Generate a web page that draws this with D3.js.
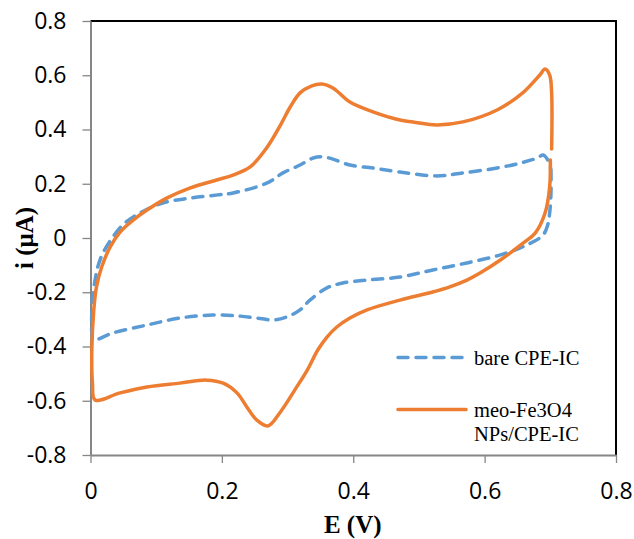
<!DOCTYPE html>
<html>
<head>
<meta charset="utf-8">
<script src="https://cdn.jsdelivr.net/npm/d3@7"></script>
<style>
  body { margin: 0; background: #fff; }
  svg  { display: block; }
</style>
</head>
<body>
<div id="chart"></div>
<script>
// Cyclic voltammograms: bare CPE-IC vs meo-Fe3O4 NPs/CPE-IC
// Values.

const xTicks = [0, 0.2, 0.4, 0.6, 0.8];
const yTicks = [-0.8, -0.6, -0.4, -0.2, 0, 0.2, 0.4, 0.6, 0.8];

const seriesNames = ['bare CPE-IC', 'meo-Fe3O4 NPs/CPE-IC'];

// bare CPE-IC (dashed blue), closed loop
const bareE = [0.701, 0.701, 0.699, 0.696, 0.689, 0.664, 0.623, 0.573, 0.521, 0.471,
               0.421, 0.384, 0.360, 0.334, 0.319, 0.299, 0.278, 0.253, 0.228, 0.186,
               0.136, 0.086, 0.034, 0.004, 0.002, 0.002, 0.003, 0.007, 0.011, 0.019,
               0.033, 0.049, 0.075, 0.110, 0.151, 0.194, 0.217, 0.269, 0.293, 0.319,
               0.339, 0.354, 0.369, 0.395, 0.430, 0.471, 0.527, 0.567, 0.619, 0.654,
               0.680, 0.689, 0.696, 0.701];
const bareI = [0.251, 0.166, 0.092, 0.048, 0.011, -0.026, -0.063, -0.092, -0.118, -0.144,
               -0.155, -0.166, -0.184, -0.229, -0.265, -0.291, -0.302, -0.295, -0.288, -0.284,
               -0.295, -0.321, -0.350, -0.376, -0.350, -0.265, -0.218, -0.155, -0.107, -0.055,
               0.000, 0.048, 0.092, 0.129, 0.147, 0.159, 0.166, 0.203, 0.240, 0.269,
               0.295, 0.299, 0.291, 0.269, 0.258, 0.243, 0.229, 0.240, 0.258, 0.276,
               0.295, 0.306, 0.288, 0.251];

// meo-Fe3O4 NPs/CPE-IC (solid orange), open at E = 0.7
const feE = [0.700, 0.699, 0.692, 0.677, 0.659, 0.624, 0.593, 0.573, 0.547, 0.521,
             0.471, 0.421, 0.395, 0.375, 0.360, 0.346, 0.330, 0.314, 0.288, 0.270,
             0.253, 0.238, 0.223, 0.202, 0.177, 0.136, 0.086, 0.045, 0.007, 0.003,
             0.002, 0.005, 0.009, 0.017, 0.030, 0.045, 0.065, 0.086, 0.116, 0.151,
             0.192, 0.217, 0.243, 0.269, 0.290, 0.304, 0.319, 0.336, 0.352, 0.369,
             0.395, 0.430, 0.471, 0.491, 0.527, 0.567, 0.619, 0.658, 0.684, 0.692,
             0.699, 0.702, 0.702];
const feI = [0.288, 0.188, 0.092, 0.018, -0.018, -0.081, -0.129, -0.155, -0.180, -0.199,
             -0.229, -0.265, -0.295, -0.328, -0.365, -0.413, -0.487, -0.549, -0.645, -0.693,
             -0.671, -0.623, -0.571, -0.535, -0.524, -0.535, -0.549, -0.571, -0.597, -0.535,
             -0.413, -0.265, -0.181, -0.107, -0.033, 0.022, 0.066, 0.103, 0.147, 0.184,
             0.214, 0.232, 0.262, 0.335, 0.420, 0.483, 0.535, 0.560, 0.568, 0.553,
             0.501, 0.465, 0.435, 0.428, 0.417, 0.428, 0.472, 0.535, 0.601, 0.623,
             0.601, 0.535, 0.328];

const blue   = '#5B9BD5';
const orange = '#ED7D31';


function tickLabel(d)                                             // Excel style: "0", "0.2", "-0.4" (plain hyphen)
{
  return d === 0 ? '0' : d.toFixed(1);
}


function drawCV(containerId)
{
  const width  = 634;
  const height = 539;
  const plot = { left: 90.5, right: 616, top: 21, bottom: 455 };  // plot-area box in px

  const svg = d3.select('#' + containerId)
                .append('svg')
                .attr('width', width)
                .attr('height', height);

  const x = d3.scaleLinear().domain([0, 0.8]).range([plot.left, plot.right]);
  const y = d3.scaleLinear().domain([-0.8, 0.8]).range([plot.bottom, plot.top]);

  // --- frame: top/right in black ---
  svg.append('path')
     .attr('d', `M${plot.left},${plot.top}H${plot.right}V${plot.bottom}`)
     .attr('fill', 'none')
     .attr('stroke', '#000')
     .attr('stroke-width', 2);

  // --- axes ---
  const tickFont = '"Open Sans", sans-serif';

  const yAxis = svg.append('g')
     .attr('transform', `translate(${plot.left},0)`)
     .call(d3.axisLeft(y).tickValues(yTicks).tickSize(8).tickSizeOuter(0).tickPadding(16)
             .tickFormat(tickLabel));

  const xAxis = svg.append('g')
     .attr('transform', `translate(0,${plot.bottom})`)
     .call(d3.axisBottom(x).tickValues(xTicks).tickSize(8).tickSizeOuter(0).tickPadding(20)
             .tickFormat(tickLabel));

  [xAxis, yAxis].forEach(ax => {
    ax.select('.domain').attr('stroke', '#868686').attr('stroke-width', 2);
    ax.selectAll('.tick line').attr('stroke', '#868686').attr('stroke-width', 1.3);
    ax.selectAll('.tick text')
      .attr('fill', '#000')
      .style('font-family', tickFont)
      .style('font-size', '23px');
  });

  // --- axis titles ---
  svg.append('text')
     .attr('x', (plot.left + plot.right) / 2 - 0.5)
     .attr('y', 533)
     .attr('text-anchor', 'middle')
     .style('font-family', '"Liberation Serif", "Times New Roman", serif')
     .style('font-weight', 'bold')
     .style('font-size', '25px')
     .text('E (V)');

  svg.append('text')
     .attr('transform', `translate(33,${(plot.top + plot.bottom) / 2}) rotate(-90)`)
     .attr('text-anchor', 'middle')
     .style('font-family', '"Liberation Serif", "Times New Roman", serif')
     .style('font-weight', 'bold')
     .style('font-size', '25px')
     .text('i (\u03BCA)');

  // --- curves ---
  const line = d3.line()
                 .x(d => x(d[0]))
                 .y(d => y(d[1]))
                 .curve(d3.curveCatmullRom.alpha(0.5));

  const bare = bareE.map((e, k) => [e, bareI[k]]);
  const fe   = feE.map((e, k) => [e, feI[k]]);

  svg.append('path')
     .datum(bare)
     .attr('d', line)
     .attr('fill', 'none')
     .attr('stroke', blue)
     .attr('stroke-width', 3.5)
     .attr('stroke-dasharray', '10,8')
     .attr('stroke-linecap', 'round');

  svg.append('path')
     .datum(fe)
     .attr('d', line)
     .attr('fill', 'none')
     .attr('stroke', orange)
     .attr('stroke-width', 3.5)
     .attr('stroke-linecap', 'round')
     .attr('stroke-linejoin', 'round');

  // --- legend ---
  const legendFont = '"Liberation Serif", "Times New Roman", serif';
  const legend = svg.append('g');

  legend.append('line')
        .attr('x1', 398).attr('x2', 466).attr('y1', 357.5).attr('y2', 357.5)
        .attr('stroke', blue).attr('stroke-width', 3.5)
        .attr('stroke-dasharray', '10,8').attr('stroke-linecap', 'round');
  legend.append('text')
        .attr('x', 474).attr('y', 365)
        .style('font-family', legendFont).style('font-size', '20.5px')
        .text(seriesNames[0]);

  legend.append('line')
        .attr('x1', 398).attr('x2', 466).attr('y1', 409.5).attr('y2', 409.5)
        .attr('stroke', orange).attr('stroke-width', 3.5).attr('stroke-linecap', 'round');
  const t2 = legend.append('text')
        .attr('x', 474).attr('y', 417)
        .style('font-family', legendFont).style('font-size', '20.5px');
  t2.append('tspan').attr('x', 474).text('meo-Fe3O4');
  t2.append('tspan').attr('x', 474).attr('dy', 24).text('NPs/CPE-IC');
}

drawCV('chart');
</script>
</body>
</html>
